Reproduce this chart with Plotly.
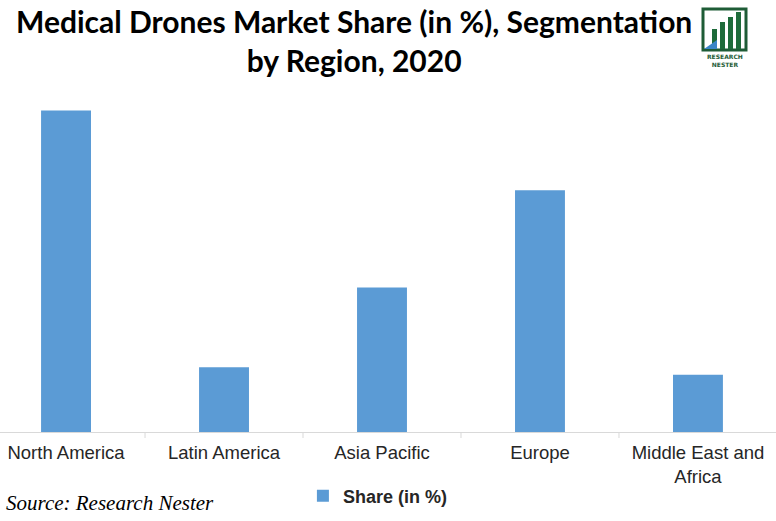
import plotly.graph_objects as go

categories = ["North America", "Latin America", "Asia Pacific", "Europe", "Middle East and<br>Africa"]
share = [38.7, 7.8, 17.4, 29.1, 6.9]
series_name = "Share (in %)"
title_text = "Medical Drones Market Share (in %), Segmentation<br>by Region, 2020"
source_text = "Source: Research Nester"

W, H = 776, 521
top, bottom = 83, 432
ph = bottom - top

def py(pix):
    return (bottom - pix) / ph

def px(x):
    return x / W

fig = go.Figure()
fig.add_trace(go.Bar(
    x=list(range(len(categories))), y=share, name=series_name,
    marker=dict(color="#5B9BD5", line=dict(width=0)), width=0.316,
    showlegend=True,
))

fig.update_layout(
    width=W, height=H,
    margin=dict(l=0, r=0, t=top, b=H - bottom),
    paper_bgcolor="white", plot_bgcolor="white",
    xaxis=dict(
        range=[-0.418, 4.494], tickmode="array",
        tickvals=list(range(len(categories))), ticktext=categories,
        showline=True, linecolor="#D9D9D9", linewidth=1,
        ticks="", showgrid=False, zeroline=False, ticklabelstandoff=4,
        tickfont=dict(family="Arial, Liberation Sans", size=18.5, color="#262626"),
    ),
    yaxis=dict(range=[0, 42], visible=False, showgrid=False),
    legend=dict(orientation="h", x=0.487, xanchor="center", y=py(496), yanchor="middle",
                font=dict(family="Arial, Liberation Sans", size=18, color="#262626", weight="bold"),
                itemwidth=30),
    font=dict(family="Arial, Liberation Sans"),
)

# boundary tick marks
for b in [0.5, 1.5, 2.5, 3.5]:
    fig.add_shape(type="line", xref="x", yref="paper", x0=b, x1=b, y0=0, y1=py(438),
                  line=dict(color="#D9D9D9", width=1))

fig.add_annotation(text="<b>" + title_text + "</b>", xref="paper", yref="paper",
                   x=354 / W, y=py(40), xanchor="center", yanchor="middle", showarrow=False,
                   font=dict(family="Lato", size=30, color="#000000"), align="center")

fig.add_annotation(text="<i>" + source_text + "</i>", xref="paper", yref="paper",
                   x=4 / W, y=py(503), xanchor="left", yanchor="middle", showarrow=False,
                   font=dict(family="Liberation Serif", size=21, color="#000000"))

# logo
fig.add_shape(type="rect", xref="paper", yref="paper", x0=px(703), x1=px(746), y0=py(50), y1=py(9),
              line=dict(color="#1E5C36", width=3), fillcolor="white")
for (x0, x1, yt) in [(712, 717, 29), (720, 725, 22), (728, 733, 17), (736, 741, 12)]:
    fig.add_shape(type="rect", xref="paper", yref="paper", x0=px(x0), x1=px(x1), y0=py(49), y1=py(yt),
                  line=dict(width=0), fillcolor="#1E6B3A")
fig.add_shape(type="path", xref="paper", yref="paper",
              path=f"M {px(704)},{py(49)} L {px(717)},{py(49)} L {px(717)},{py(40)} Z",
              line=dict(width=0), fillcolor="#3A86C8")
fig.add_annotation(text="<b>RESEARCH<br>NESTER</b>", xref="paper", yref="paper",
                   x=px(725), y=py(61), xanchor="center", yanchor="middle", showarrow=False,
                   font=dict(family="DejaVu Sans", size=6, color="#1E5C36"), align="center")

fig.write_html("out.html")
